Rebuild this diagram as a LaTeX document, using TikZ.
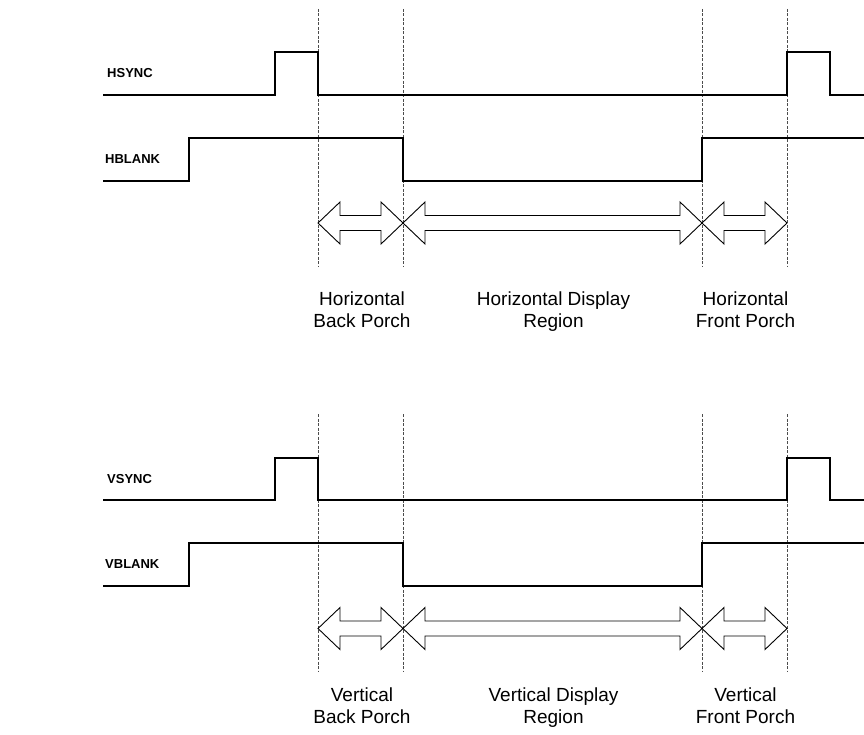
\documentclass[tikz,border=0pt]{standalone}
\usepackage{fontspec}
\setmainfont{Liberation Sans}
\begin{document}
\begin{tikzpicture}[x=1pt,y=-1pt,
  wave/.style={line width=2pt,black,line join=miter},
  marker/.style={line width=0.9pt,black!70,dash pattern=on 3pt off 1.5pt},
  hollowarrow/.style={line width=0.9pt,black,fill=white,line join=miter},
  signame/.style={anchor=west,inner sep=0pt,font=\bfseries\fontsize{13}{15}\selectfont},
  region/.style={anchor=north,inner sep=0pt,align=center,font=\fontsize{19}{21.6}\selectfont}]
\useasboundingbox (0,0) rectangle (864,735);

% double-headed hollow arrow spanning #1..#2 at height #3
\newcommand\spanarrow[3]{%
  \draw[hollowarrow] (#1,#3) -- ({#1+22},{#3-21}) -- ({#1+22},{#3-7.5})
    -- ({#2-22},{#3-7.5}) -- ({#2-22},{#3-21}) -- (#2,#3)
    -- ({#2-22},{#3+21}) -- ({#2-22},{#3+7.5}) -- ({#1+22},{#3+7.5})
    -- ({#1+22},{#3+21}) -- cycle;}

% ---------------- horizontal timing ----------------
\foreach \mx in {318,403,702,787}
  \draw[marker] (\mx,9) -- (\mx,266);

\node[signame] (hsync) at (107,73.5) {HSYNC};
\node[signame] (hblank) at (105,159.5) {HBLANK};

\draw[wave] (103,95) -- (275,95) -- (275,52) -- (318,52) -- (318,95)
  -- (787,95) -- (787,52) -- (830,52) -- (830,95) -- (864,95);
\draw[wave] (103,181) -- (189,181) -- (189,138) -- (403,138) -- (403,181)
  -- (702,181) -- (702,138) -- (864,138);

\spanarrow{318}{403}{223}
\spanarrow{403}{702}{223}
\spanarrow{702}{787}{223}

\node[region] (hbp) at (362,291.5) {Horizontal\\Back Porch};
\node[region] (hdr) at (553.5,291.5) {Horizontal Display\\Region};
\node[region] (hfp) at (745.5,291.5) {Horizontal\\Front Porch};

% ---------------- vertical timing ----------------
\foreach \mx in {318,403,702,787}
  \draw[marker] (\mx,414) -- (\mx,671);

\node[signame] (vsync) at (107,479) {VSYNC};
\node[signame] (vblank) at (105,564.5) {VBLANK};

\draw[wave] (103,500) -- (275,500) -- (275,458) -- (318,458) -- (318,500)
  -- (787,500) -- (787,458) -- (830,458) -- (830,500) -- (864,500);
\draw[wave] (103,586) -- (189,586) -- (189,543) -- (403,543) -- (403,586)
  -- (702,586) -- (702,543) -- (864,543);

\spanarrow{318}{403}{628.5}
\spanarrow{403}{702}{628.5}
\spanarrow{702}{787}{628.5}

\node[region] (vbp) at (362,688) {Vertical\\Back Porch};
\node[region] (vdr) at (553.5,688) {Vertical Display\\Region};
\node[region] (vfp) at (745.5,688) {Vertical\\Front Porch};
\end{tikzpicture}
\end{document}
